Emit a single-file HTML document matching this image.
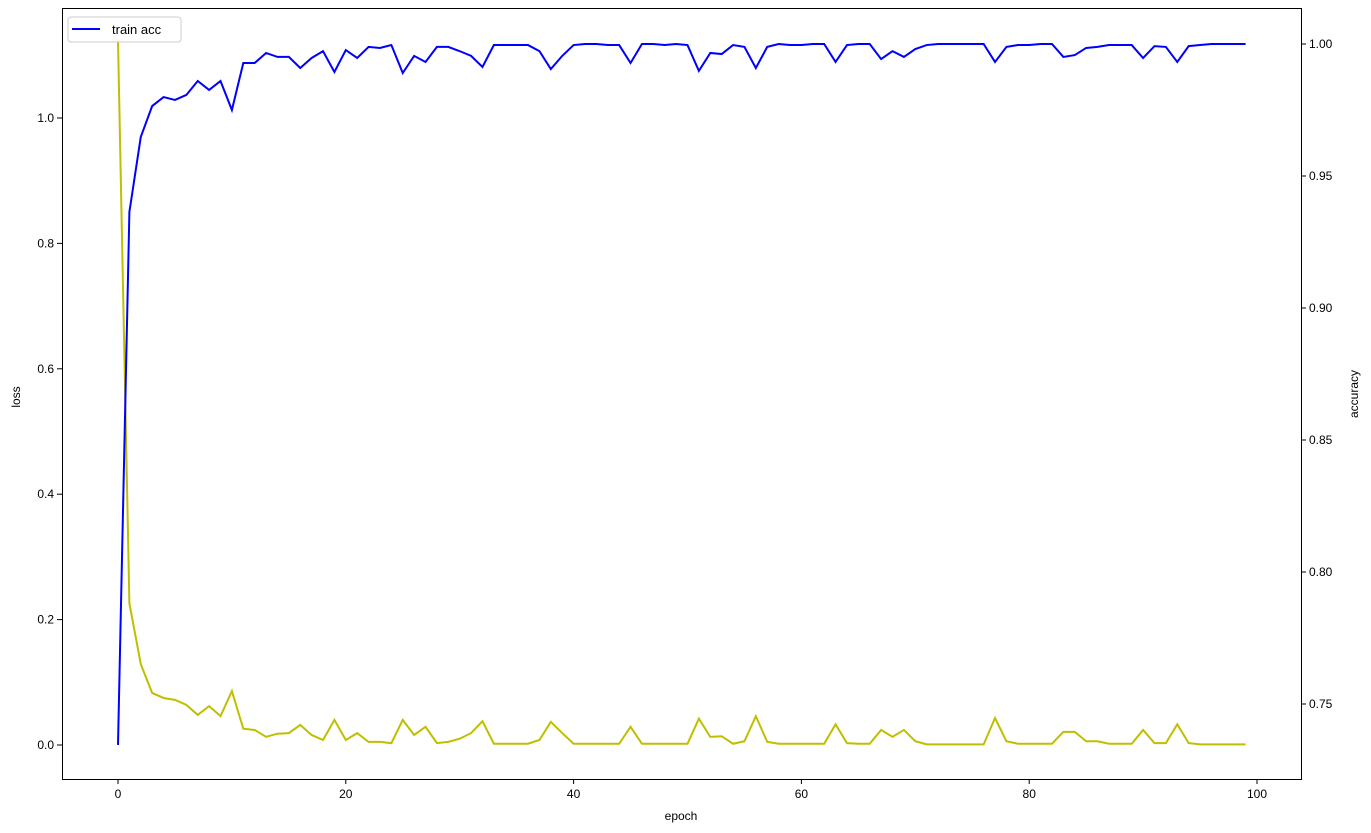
<!DOCTYPE html>
<html><head><meta charset="utf-8"><style>
body{margin:0;background:#fff;}
svg{display:block;font-family:"Liberation Sans","DejaVu Sans",sans-serif;}
</style></head><body>
<svg id="chart" width="1371" height="833" xmlns="http://www.w3.org/2000/svg"></svg>
<script>
const epochs = Array.from({length:100},(_,i)=>i);
const lossValues = [1.124,0.226,0.129,0.083,0.075,0.072,0.064,0.048,0.062,0.046,0.086,0.026,0.024,0.013,0.018,0.019,0.032,0.016,0.008,0.040,0.008,0.019,0.005,0.005,0.003,0.040,0.016,0.029,0.003,0.005,0.010,0.019,0.038,0.002,0.002,0.002,0.002,0.008,0.037,0.019,0.002,0.002,0.002,0.002,0.002,0.029,0.002,0.002,0.002,0.002,0.002,0.042,0.013,0.014,0.002,0.006,0.046,0.005,0.002,0.002,0.002,0.002,0.002,0.033,0.003,0.002,0.002,0.024,0.013,0.024,0.006,0.001,0.001,0.001,0.001,0.001,0.001,0.043,0.006,0.002,0.002,0.002,0.002,0.021,0.021,0.006,0.006,0.002,0.002,0.002,0.024,0.003,0.003,0.033,0.003,0.001,0.001,0.001,0.001,0.001];
const accValues = [0.7345,0.9364,0.9648,0.9765,0.9799,0.9788,0.9807,0.9860,0.9826,0.9860,0.9750,0.9928,0.9928,0.9966,0.9951,0.9951,0.9909,0.9947,0.9973,0.9894,0.9977,0.9947,0.9989,0.9985,0.9996,0.9890,0.9955,0.9932,0.9989,0.9989,0.9973,0.9955,0.9913,0.9996,0.9996,0.9996,0.9996,0.9973,0.9905,0.9955,0.9996,1.0,1.0,0.9996,0.9996,0.9928,1.0,1.0,0.9996,1.0,0.9996,0.9898,0.9966,0.9962,0.9996,0.9989,0.9909,0.9989,1.0,0.9996,0.9996,1.0,1.0,0.9932,0.9996,1.0,1.0,0.9943,0.9973,0.9951,0.9981,0.9996,1.0,1.0,1.0,1.0,1.0,0.9932,0.9989,0.9996,0.9996,1.0,1.0,0.9951,0.9958,0.9985,0.9989,0.9996,0.9996,0.9996,0.9947,0.9992,0.9989,0.9932,0.9992,0.9996,1.0,1.0,1.0,1.0];
const xTicks = [0,20,40,60,80,100];
const lossTicks = [0.0,0.2,0.4,0.6,0.8,1.0];
const accTicks = [0.75,0.80,0.85,0.90,0.95,1.00];

const L=62,R=1301,T=8,B=779;
const xs = v => 118 + v*(1257-118)/100;
const yl = v => 745 - v*627;
const ya = v => 44 + (1-v)*2640;
const svg = document.getElementById('chart');
const NS='http://www.w3.org/2000/svg';
function mk(tag, attrs, parent){const e=document.createElementNS(NS,tag);for(const k in attrs)e.setAttribute(k,attrs[k]);(parent||svg).appendChild(e);return e;}

const lossLine = mk('polyline',{points:epochs.map((e,i)=>xs(e)+','+yl(lossValues[i])).join(' '),fill:'none',stroke:'#bfbf00','stroke-width':2});


const accLine = mk('polyline',{points:epochs.map((e,i)=>xs(e)+','+ya(accValues[i])).join(' '),fill:'none',stroke:'#0000ff','stroke-width':2});



const frame = mk('rect',{x:L+0.5,y:T+0.5,width:R-L,height:B-T,fill:'none',stroke:'#000','stroke-width':1});



xTicks.forEach(t=>{
  const x=xs(t);
  mk('line',{x1:x,x2:x,y1:B,y2:B+5,stroke:'#000'});
  const tx=mk('text',{x:x,y:B+19,'text-anchor':'middle','font-size':12});
  tx.textContent=t;
  
  
});
lossTicks.forEach(t=>{
  const y=yl(t);
  mk('line',{x1:L-5,x2:L,y1:y,y2:y,stroke:'#000'});
  const tx=mk('text',{x:L-8,y:y+4,'text-anchor':'end','font-size':12});
  tx.textContent=t.toFixed(1);
  
  
});
accTicks.forEach(t=>{
  const y=ya(t);
  mk('line',{x1:R,x2:R+5,y1:y,y2:y,stroke:'#000'});
  const tx=mk('text',{x:R+8,y:y+4,'text-anchor':'start','font-size':12});
  tx.textContent=t.toFixed(2);
  
  
});
const xt=mk('text',{x:681,y:820,'text-anchor':'middle','font-size':12});xt.textContent='epoch';


const yt=mk('text',{x:20,y:397,'text-anchor':'middle','font-size':12,transform:'rotate(-90 20 397)'});yt.textContent='loss';


const at=mk('text',{x:1358,y:394,'text-anchor':'middle','font-size':12,transform:'rotate(-90 1358 394)'});at.textContent='accuracy';



const lg=mk('g',{});


mk('rect',{x:68,y:17,width:113,height:25,rx:3,fill:'#fff','fill-opacity':0.85,stroke:'#ccc'},lg);
mk('line',{x1:72,x2:100,y1:29,y2:29,stroke:'#0000ff','stroke-width':2},lg);
const lt=mk('text',{x:112,y:34,'font-size':13},lg);lt.textContent='train acc';


</script>
</body></html>
